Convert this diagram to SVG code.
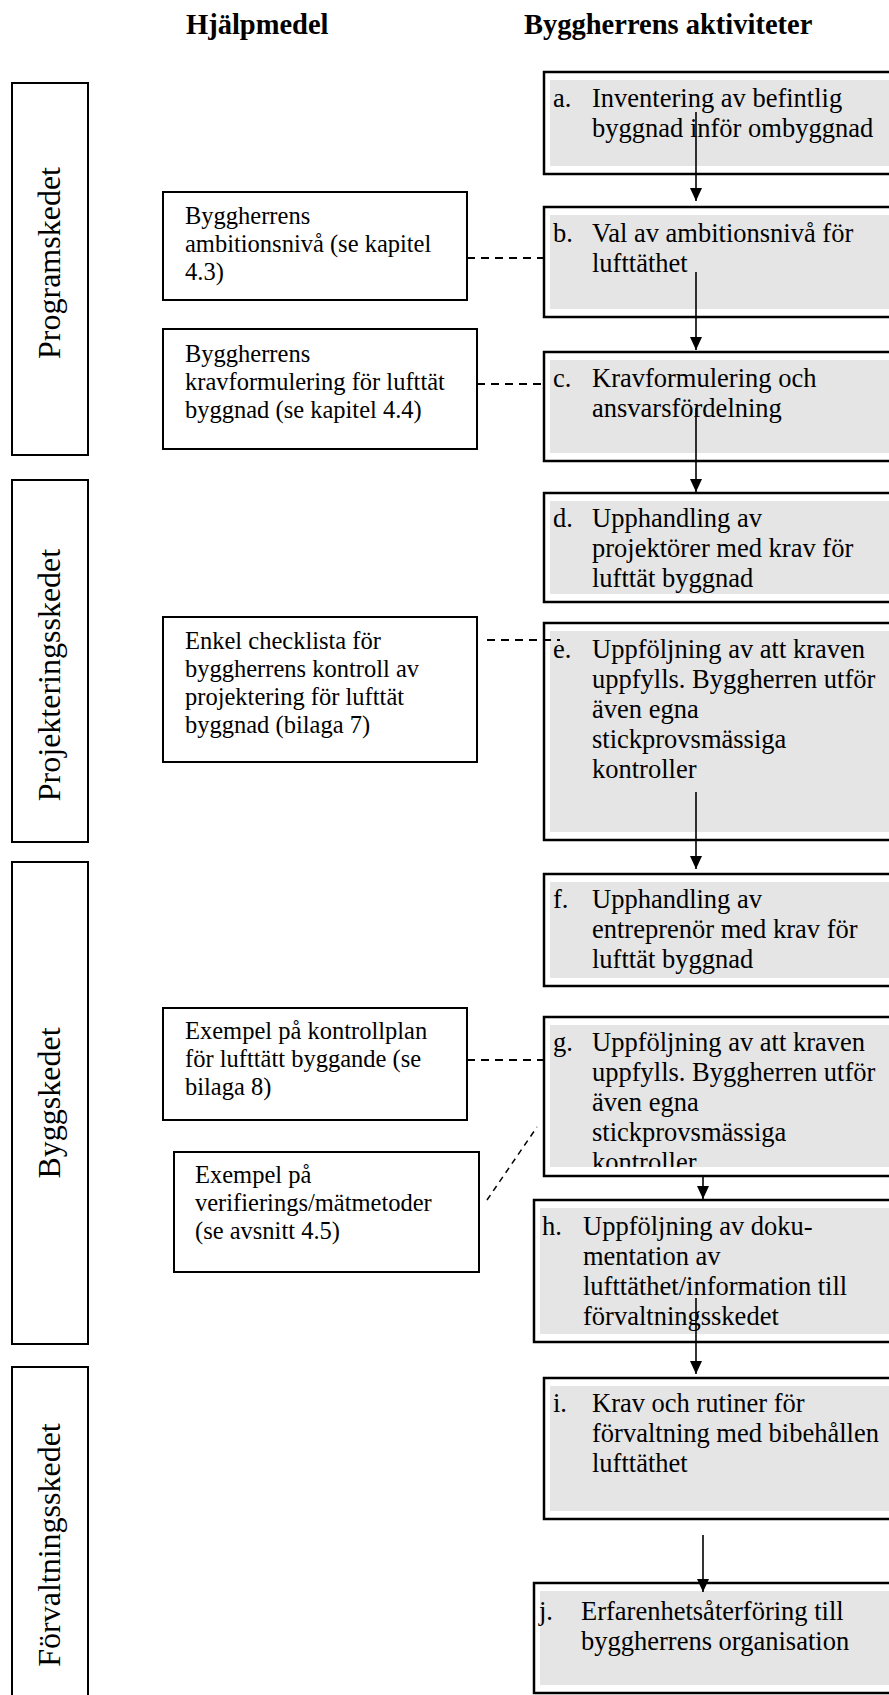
<svg xmlns="http://www.w3.org/2000/svg" width="889" height="1695" viewBox="0 0 889 1695">
<style>
text{font-family:"Liberation Serif","Times New Roman",serif;fill:#000}
.hdr{font-weight:bold;font-size:28.5px}
.t{font-size:26.5px}
.s{font-size:24.5px}
.ph{font-size:32px;text-anchor:middle}
.box{fill:#fff;stroke:#000;stroke-width:2.5}
.grey{fill:#e5e5e5;stroke:none}
.hb{fill:#fff;stroke:#000;stroke-width:2}
.arr{stroke:#000;stroke-width:1.6;fill:none;marker-end:url(#ah)}
.dash{stroke:#000;stroke-width:1.8;fill:none;stroke-dasharray:8 6}
</style>
<defs>
<marker id="ah" markerUnits="userSpaceOnUse" markerWidth="14" markerHeight="12" refX="13" refY="6" orient="auto">
<path d="M0,0 L13,6 L0,12 z" fill="#000"/>
</marker>
<clipPath id="clipG"><rect x="550" y="1025" width="340" height="142"/></clipPath>
</defs>

<g id="headers">
<text class="hdr" x="186" y="34">Hjälpmedel</text>
<text class="hdr" x="524" y="34">Byggherrens aktiviteter</text>
</g>

<g id="phase-program">
<rect class="hb" x="12" y="83" width="76" height="372"/>
<text class="ph" transform="translate(60,263) rotate(-90)">Programskedet</text>
</g>
<g id="phase-projektering">
<rect class="hb" x="12" y="480" width="76" height="362"/>
<text class="ph" transform="translate(60,675) rotate(-90)">Projekteringsskedet</text>
</g>
<g id="phase-bygg">
<rect class="hb" x="12" y="862" width="76" height="482"/>
<text class="ph" transform="translate(60,1103) rotate(-90)">Byggskedet</text>
</g>
<g id="phase-forvaltning">
<rect class="hb" x="12" y="1367" width="76" height="340"/>
<text class="ph" transform="translate(60,1545) rotate(-90)">Förvaltningsskedet</text>
</g>

<g id="help-ambition">
<rect class="hb" x="163" y="192" width="304" height="108"/>
<text class="s" x="185" y="224">Byggherrens</text>
<text class="s" x="185" y="252">ambitionsnivå (se kapitel</text>
<text class="s" x="185" y="280">4.3)</text>
</g>
<g id="help-krav">
<rect class="hb" x="163" y="329" width="314" height="120"/>
<text class="s" x="185" y="362">Byggherrens</text>
<text class="s" x="185" y="390">kravformulering för lufttät</text>
<text class="s" x="185" y="418">byggnad (se kapitel 4.4)</text>
</g>
<g id="help-checklista">
<rect class="hb" x="163" y="617" width="314" height="145"/>
<text class="s" x="185" y="649">Enkel checklista för</text>
<text class="s" x="185" y="677">byggherrens kontroll av</text>
<text class="s" x="185" y="705">projektering för lufttät</text>
<text class="s" x="185" y="733">byggnad (bilaga 7)</text>
</g>
<g id="help-kontrollplan">
<rect class="hb" x="163" y="1008" width="304" height="112"/>
<text class="s" x="185" y="1039">Exempel på kontrollplan</text>
<text class="s" x="185" y="1067">för lufttätt byggande (se</text>
<text class="s" x="185" y="1095">bilaga 8)</text>
</g>
<g id="help-matmetoder">
<rect class="hb" x="174" y="1152" width="305" height="120"/>
<text class="s" x="195" y="1183">Exempel på</text>
<text class="s" x="195" y="1211">verifierings/mätmetoder</text>
<text class="s" x="195" y="1239">(se avsnitt 4.5)</text>
</g>

<g id="act-a">
<rect class="box" x="544" y="72" width="360" height="102"/>
<rect class="grey" x="550" y="80" width="350" height="86"/>
<text class="t" x="553" y="107">a.</text>
<text class="t" x="592" y="107">Inventering av befintlig</text>
<text class="t" x="592" y="137">byggnad inför ombyggnad</text>
</g>
<g id="act-b">
<rect class="box" x="544" y="207" width="360" height="110"/>
<rect class="grey" x="550" y="215" width="350" height="94"/>
<text class="t" x="553" y="242">b.</text>
<text class="t" x="592" y="242">Val av ambitionsnivå för</text>
<text class="t" x="592" y="272">lufttäthet</text>
</g>
<g id="act-c">
<rect class="box" x="544" y="352" width="360" height="109"/>
<rect class="grey" x="550" y="360" width="350" height="93"/>
<text class="t" x="553" y="387">c.</text>
<text class="t" x="592" y="387">Kravformulering och</text>
<text class="t" x="592" y="417">ansvarsfördelning</text>
</g>
<g id="act-d">
<rect class="box" x="544" y="493" width="360" height="109"/>
<rect class="grey" x="550" y="501" width="350" height="93"/>
<text class="t" x="553" y="527">d.</text>
<text class="t" x="592" y="527">Upphandling av</text>
<text class="t" x="592" y="557">projektörer med krav för</text>
<text class="t" x="592" y="587">lufttät byggnad</text>
</g>
<g id="act-e">
<rect class="box" x="544" y="623" width="360" height="217"/>
<rect class="grey" x="550" y="631" width="350" height="201"/>
<text class="t" x="553" y="658">e.</text>
<text class="t" x="592" y="658">Uppföljning av att kraven</text>
<text class="t" x="592" y="688">uppfylls. Byggherren utför</text>
<text class="t" x="592" y="718">även egna</text>
<text class="t" x="592" y="748">stickprovsmässiga</text>
<text class="t" x="592" y="778">kontroller</text>
</g>
<g id="act-f">
<rect class="box" x="544" y="874" width="360" height="112"/>
<rect class="grey" x="550" y="882" width="350" height="96"/>
<text class="t" x="553" y="908">f.</text>
<text class="t" x="592" y="908">Upphandling av</text>
<text class="t" x="592" y="938">entreprenör med krav för</text>
<text class="t" x="592" y="968">lufttät byggnad</text>
</g>
<g id="act-g">
<rect class="box" x="544" y="1017" width="360" height="159"/>
<rect class="grey" x="550" y="1025" width="350" height="142"/>
<g clip-path="url(#clipG)">
<text class="t" x="553" y="1051">g.</text>
<text class="t" x="592" y="1051">Uppföljning av att kraven</text>
<text class="t" x="592" y="1081">uppfylls. Byggherren utför</text>
<text class="t" x="592" y="1111">även egna</text>
<text class="t" x="592" y="1141">stickprovsmässiga</text>
<text class="t" x="592" y="1171">kontroller</text>
</g>
</g>
<g id="act-h">
<rect class="box" x="534" y="1200" width="370" height="142"/>
<rect class="grey" x="540" y="1208" width="360" height="126"/>
<text class="t" x="542" y="1235">h.</text>
<text class="t" x="583" y="1235">Uppföljning av doku-</text>
<text class="t" x="583" y="1265">mentation av</text>
<text class="t" x="583" y="1295">lufttäthet/information till</text>
<text class="t" x="583" y="1325">förvaltningsskedet</text>
</g>
<g id="act-i">
<rect class="box" x="544" y="1378" width="360" height="141"/>
<rect class="grey" x="550" y="1386" width="350" height="125"/>
<text class="t" x="553" y="1412">i.</text>
<text class="t" x="592" y="1412">Krav och rutiner för</text>
<text class="t" x="592" y="1442">förvaltning med bibehållen</text>
<text class="t" x="592" y="1472">lufttäthet</text>
</g>
<g id="act-j">
<rect class="box" x="534" y="1583" width="370" height="110"/>
<rect class="grey" x="540" y="1591" width="360" height="94"/>
<text class="t" x="539" y="1620">j.</text>
<text class="t" x="581" y="1620">Erfarenhetsåterföring till</text>
<text class="t" x="581" y="1650">byggherrens organisation</text>
</g>

<g id="connectors">
<line class="arr" x1="696" y1="112" x2="696" y2="201"/>
<line class="arr" x1="696" y1="272" x2="696" y2="350"/>
<line class="arr" x1="696" y1="408" x2="696" y2="492"/>
<line class="arr" x1="696" y1="792" x2="696" y2="869"/>
<line class="arr" x1="703" y1="1176" x2="703" y2="1199"/>
<line class="arr" x1="696" y1="1298" x2="696" y2="1374"/>
<line class="arr" x1="703" y1="1535" x2="703" y2="1592"/>
<line class="dash" x1="467" y1="258" x2="544" y2="258"/>
<line class="dash" x1="477" y1="384" x2="544" y2="384"/>
<line class="dash" x1="487" y1="640" x2="560" y2="640"/>
<line class="dash" x1="467" y1="1060" x2="544" y2="1060"/>
<line class="dash" x1="487" y1="1200" x2="537" y2="1127" style="stroke-dasharray:6 5;stroke-width:1.5"/>
</g>
</svg>
